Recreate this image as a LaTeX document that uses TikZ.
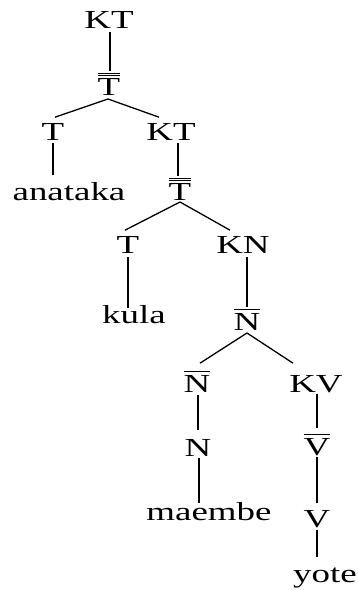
\documentclass[tikz,border=0pt]{standalone}
\usepackage{fontspec}
\setmainfont{Liberation Serif}
\usetikzlibrary{calc}
\newcommand\sx[1]{\scalebox{1.42}[1]{#1}}
\newcommand\onebar[1]{\leavevmode\vbox{\hrule height 1pt\kern2.5pt\hbox{#1}}}
\newcommand\twobar[1]{\leavevmode\vbox{\hrule height .9pt\kern1.6pt\hrule height .9pt\kern2pt\hbox{#1}}}
\begin{document}
\begin{tikzpicture}[x=1pt,y=1pt,
  lab/.style={inner sep=0pt, outer sep=0pt, anchor=base, font=\fontsize{26}{30}\selectfont},
  ln/.style={line width=1.3pt, line cap=butt}]
\useasboundingbox (0,0) rectangle (357,-590);
\node[lab] (kt1) at (109,-28) {\sx{KT}};
\node[lab] (tb1) at (109,-95) {\sx{\twobar{T}}};
\node[lab] (tl) at (53,-140) {\sx{T}};
\node[lab] (ana) at (69,-200) {\sx{anataka}};
\node[lab] (kt2) at (171,-140) {\sx{KT}};
\node[lab] (tb2) at (180,-200) {\sx{\twobar{T}}};
\node[lab] (t3) at (128,-253) {\sx{T}};
\node[lab] (kula) at (134,-323) {\sx{kula}};
\node[lab] (kn) at (243,-253) {\sx{KN}};
\node[lab] (nb) at (247,-330) {\sx{\onebar{N}}};
\node[lab] (nbl) at (197,-392) {\sx{\onebar{N}}};
\node[lab] (kv) at (316,-392) {\sx{KV}};
\node[lab] (n) at (198,-456) {\sx{N}};
\node[lab] (mae) at (209,-520) {\sx{maembe}};
\node[lab] (vb) at (317,-455) {\sx{\onebar{V}}};
\node[lab] (v) at (317,-527) {\sx{V}};
\node[lab] (yote) at (325,-582) {\sx{yote}};

\draw[ln] ($(kt1.south)+(1,-4)$) -- ($(tb1.north)+(1,1.5)$);
\draw[ln] ($(tb1.south)+(-1,-4)$) -- ($(tl.north)+(2,5.8)$);
\draw[ln] ($(tb1.south)+(-1,-4)$) -- ($(kt2.north)+(-12,5.8)$);
\draw[ln] ($(tl.south)+(0,-3)$) -- ($(tl.south |- ana.base)+(0,25)$);
\draw[ln] ($(kt2.south)+(7,-3)$) -- ($(tb2.north)+(-2,2)$);
\draw[ln] ($(tb2.south)+(0,-2)$) -- ($(t3.north)+(-3,5.8)$);
\draw[ln] ($(tb2.south)+(0,-2)$) -- ($(kn.north)+(-13,5.8)$);
\draw[ln] ($(t3.south)+(0,-4)$) -- ($(t3.south |- kula.base)+(0,15)$);
\draw[ln] ($(kn.south -| nb.north)+(0,-4)$) -- ($(nb.north)+(0,2)$);
\draw[ln] ($(nb.south)+(0,-3)$) -- ($(nbl.north)+(3,8.3)$);
\draw[ln] ($(nb.south)+(0,-3)$) -- ($(kv.north)+(-23,11.8)$);
\draw[ln] ($(nbl.south)+(1,-3)$) -- ($(n.north)+(0,8.8)$);
\draw[ln] ($(n.south)+(1,-2)$) -- ($(n.south |- mae.base)+(1,17)$);
\draw[ln] ($(kv.south -| vb.north)+(0,-1.5)$) -- ($(vb.north)+(0,6.3)$);
\draw[ln] ($(vb.south)+(0,-2)$) -- ($(v.north)+(0,6.8)$);
\draw[ln] ($(v.south)+(0,-3)$) -- ($(v.south |- yote.base)+(0,25)$);
\end{tikzpicture}
\end{document}
